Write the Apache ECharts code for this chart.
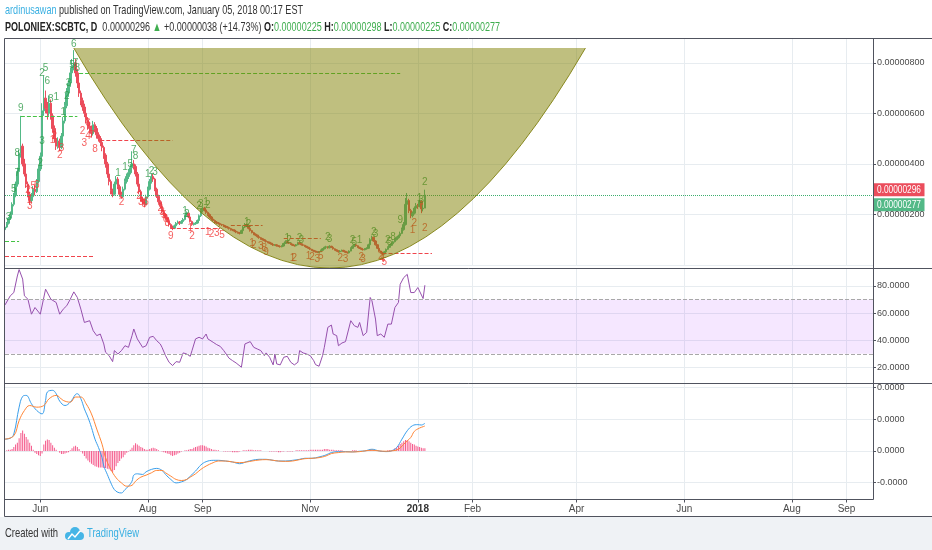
<!DOCTYPE html>
<html lang="en">
<head>
<meta charset="UTF-8">
<title>POLONIEX:SCBTC</title>
<script src="https://cdn.jsdelivr.net/npm/echarts@6/dist/echarts.min.js"></script>
<style>
  html, body { margin: 0; padding: 0; background: #ffffff; }
  #main { width: 932px; height: 550px; }
</style>
</head>
<body>
<div id="main"></div>
<script type="text/javascript">
// prices are in satoshi (1e-8 BTC), first candle = 2017-05-12
// each row: [open, close, low, high]
const ohlc = [
  [140,150,135,158],[150,165,146,170],[165,185,160,190],[185,200,178,212],[200,240,195,248],
  [240,275,232,285],[275,320,268,330],[320,370,310,385],[370,440,362,455],[440,470,425,590],
  [470,400,390,480],[400,360,350,420],[360,320,305,372],[320,280,268,330],[280,255,240,290],
  [255,270,248,285],[270,300,262,312],[300,290,275,315],[290,330,285,340],[330,380,322,392],
  [380,430,372,445],[430,610,420,640],[610,660,590,750],[660,620,600,690],[620,600,575,645],
  [600,640,590,670],[640,590,575,655],[590,540,525,600],[540,500,485,552],[500,470,455,515],
  [470,490,460,505],[490,465,450,500],[465,510,458,522],[510,570,502,585],[570,630,560,645],
  [630,680,620,700],[680,720,665,735],[720,760,705,780],[760,790,745,815],[790,800,770,850],
  [800,760,745,815],[760,720,700,775],[720,680,665,730],[680,650,632,690],[650,625,610,662],
  [625,600,585,638],[600,575,560,612],[575,550,535,585],[550,540,520,565],[540,520,505,552],
  [520,555,512,570],[555,540,525,565],[540,515,500,550],[515,500,488,525],[500,485,470,510],
  [485,465,450,495],[465,435,420,472],[435,400,385,442],[400,360,345,408],[360,330,315,368],
  [330,295,280,338],[295,280,268,302],[280,320,275,330],[320,340,312,352],[340,310,300,348],
  [310,280,270,318],[280,270,262,290],[270,300,266,310],[300,330,295,342],[330,350,322,362],
  [350,365,340,380],[365,385,358,400],[385,400,375,450],[400,390,378,415],[390,360,350,398],
  [360,320,310,368],[320,290,280,328],[290,262,250,298],[262,250,238,270],[250,240,228,258],
  [240,270,236,278],[270,300,265,310],[300,330,295,340],[330,350,322,362],[350,340,330,360],
  [340,300,292,345],[300,272,265,306],[272,250,242,278],[250,232,225,256],[232,212,205,238],
  [212,200,192,218],[200,188,180,205],[188,175,168,192],[175,160,152,180],[160,150,143,165],
  [150,145,138,156],[145,155,142,160],[155,165,150,170],[165,170,160,176],[170,165,158,174],
  [165,172,162,178],[172,180,168,186],[180,195,176,200],[195,205,190,212],[205,190,185,208],
  [190,172,168,194],[172,160,155,176],[160,163,156,168],[163,166,159,170],[166,176,163,180],
  [176,195,172,200],[195,215,190,222],[215,225,208,232],[225,218,212,230],[218,208,202,222],
  [208,200,194,212],[200,190,185,204],[190,182,176,194],[182,176,172,186],[176,170,165,180],
  [170,166,162,174],[166,164,160,170],[164,160,155,167],[160,158,154,163],[158,154,150,161],
  [154,150,146,157],[150,148,144,154],[148,144,140,151],[144,140,136,147],[140,138,134,143],
  [138,134,130,141],[134,130,126,137],[130,128,124,133],[128,125,121,131],[125,136,123,140],
  [136,150,133,156],[150,160,146,166],[160,154,150,164],[154,145,141,157],[145,136,132,148],
  [136,128,125,139],[128,122,118,131],[122,118,114,125],[118,112,108,120],[112,108,104,115],
  [108,104,100,111],[104,100,97,107],[100,96,93,103],[96,92,89,99],[92,90,86,95],
  [90,86,83,92],[86,82,79,88],[82,78,75,84],[78,80,76,83],[80,76,73,82],
  [76,74,71,78],[74,72,69,76],[72,75,70,78],[75,85,73,88],[85,92,83,96],
  [92,88,85,94],[88,86,83,90],[86,82,79,88],[82,78,75,84],[78,76,73,80],
  [76,80,74,83],[80,88,78,92],[88,84,81,90],[84,80,77,86],[80,78,75,82],
  [78,74,71,80],[74,70,67,76],[70,66,63,72],[66,62,59,68],[62,58,55,64],
  [58,55,52,60],[55,52,49,57],[52,50,47,54],[50,52,48,55],[52,58,51,61],
  [58,64,56,67],[64,70,62,73],[70,72,67,76],[72,68,65,74],[68,74,66,78],
  [74,70,67,76],[70,64,61,72],[64,60,57,66],[60,56,53,62],[56,52,49,58],
  [52,55,50,58],[55,58,53,61],[58,54,51,60],[54,50,47,56],[50,48,45,53],
  [48,55,46,58],[55,66,54,70],[66,74,64,78],[74,80,71,84],[80,76,73,82],
  [76,70,67,78],[70,66,63,72],[66,62,59,68],[62,60,57,64],[60,64,58,67],
  [64,66,61,70],[66,80,64,84],[80,100,78,106],[100,110,96,116],[110,95,92,112],
  [95,80,77,98],[80,66,63,82],[66,55,52,68],[55,48,45,57],[48,44,40,50],
  [44,52,42,55],[52,62,50,65],[62,70,60,74],[70,78,68,82],[78,84,75,88],
  [84,92,82,96],[92,100,89,105],[100,108,97,113],[108,115,104,120],[115,125,112,132],
  [125,140,122,148],[140,160,136,170],[160,240,156,265],[240,255,225,285],[255,215,205,262],
  [215,195,185,222],[195,205,188,212],[205,225,200,232],[225,235,220,245],[235,232,222,242],
  [232,252,228,258],[252,222,205,256],[222,225,212,238],[225,277,225,298]
];

// RSI(14): [day index, value]
const rsiPoints = [
  [0,66],[3,72.7],[5,75.1],[7,87.3],[8,92],[9,92],[10,85],[11,72.7],[13,70.2],[15,59.2],
  [17,64.1],[18,65.4],[20,59.2],[21,60.5],[23,77.6],[24,76.3],[26,70.2],[27,71.5],[29,67.8],[31,59.2],
  [33,62.9],[35,65.4],[37,70.2],[39,75.6],[41,71.5],[43,62.9],[45,53.1],[48,54.4],[50,47],[52,43.4],
  [54,44.6],[56,37.3],[57,31.2],[59,28.7],[61,24.3],[62,32.4],[64,29.9],[66,32.4],[68,36],[70,34.8],
  [72,43.4],[73,48.3],[75,41],[78,34.8],[80,36],[82,42.2],[84,42.9],[86,39.7],[88,37.3],[89,34.8],
  [91,28.7],[93,23.8],[95,21.4],[97,24.3],[99,23.8],[101,30.7],[103,29.9],[105,28.2],[106,32.4],[108,41],
  [110,42.2],[112,41],[114,44.6],[115,41],[118,38.5],[120,36.8],[122,35.5],[124,32.4],[127,26.8],[129,25],
  [131,23.3],[134,20.2],[136,37.3],[137,36],[139,39],[141,34.8],[143,33.6],[145,32.4],[147,28.7],[148,30.7],
  [150,27.5],[152,21.9],[153,29.9],[154,22.6],[156,21.9],[158,27.5],[160,28.2],[162,23.8],[164,21.9],[166,23.8],
  [167,32.4],[169,30.7],[171,29.9],[173,28.7],[175,25],[176,22.1],[178,20.9],[180,28.7],[181,34.8],[183,49.5],
  [185,51.2],[186,44.6],[188,43.4],[189,36],[191,38],[193,39],[196,54.4],[198,50.7],[200,49.5],[201,53.1],
  [203,43.4],[205,45.8],[207,71.5],[208,69],[210,55.6],[211,43.4],[213,44.6],[215,42.2],[217,51.9],[219,51.9],
  [221,64.1],[223,67.8],[224,81.2],[226,86.1],[228,88.5],[230,75.1],[232,75.1],[234,78.8],[235,77.6],[237,70.7],
  [238,80.5]
];

// MACD line and signal line (satoshi): [day index, value]
const macdPoints = [
  [0,18.5],[3,20],[5,26.5],[8,68.8],[10,85.7],[12,87.3],[15,74.1],[18,63.5],[21,58.2],[23,79.4],
  [24,92.6],[27,95.2],[29,89.9],[31,78.3],[34,71.4],[37,76.7],[40,88.9],[41,89.9],[43,82],[45,66.1],
  [47,52.9],[49,37],[51,18.5],[53,5.3],[55,-10.6],[56,-23.8],[58,-37],[60,-50.3],[62,-60.8],[64,-65.1],
  [66,-66.1],[68,-60.8],[70,-55.5],[72,-47.6],[73,-38.1],[75,-36],[78,-37],[80,-32.8],[83,-29.1],[86,-27.5],
  [89,-30.7],[91,-37],[94,-44.9],[97,-50.3],[100,-48.7],[103,-44.9],[105,-39.7],[108,-31.7],[111,-22.2],[114,-16.9],
  [118,-14.8],[121,-14.8],[125,-15.9],[129,-17.4],[133,-20.1],[137,-16.9],[140,-14.8],[144,-13.2],[148,-13.2],[152,-14.8],
  [155,-15.9],[159,-15.9],[163,-14.8],[167,-13.2],[170,-11.6],[174,-11.6],[178,-9.5],[182,-6.3],[185,-2.6],[189,-1.1],
  [193,-1.1],[197,-1.6],[201,-0.5],[204,0],[208,2.6],[212,0],[216,-1.1],[219,0],[222,5.3],[225,18.5],
  [228,31.7],[231,39.7],[234,41.3],[236,40.7],[238,43.4]
];
const signalPoints = [
  [0,18.5],[5,23.8],[8,47.6],[11,63.5],[14,71.4],[18,68.8],[22,71.4],[25,82],[29,87.3],[33,79.4],
  [37,76.7],[40,84.7],[43,84.7],[46,74.1],[49,58.2],[52,34.4],[55,10.6],[57,-10.6],[60,-29.1],[63,-42.3],
  [66,-50.3],[69,-55.5],[72,-54],[74,-47.6],[77,-41.2],[80,-38.1],[83,-34.4],[86,-30.7],[89,-30.7],[91,-34.4],
  [94,-39.7],[97,-44.9],[100,-46.5],[103,-44.9],[105,-41.2],[108,-36],[111,-29.1],[114,-23.8],[118,-18.5],[121,-15.9],
  [125,-15.9],[129,-17.4],[133,-18.5],[137,-17.4],[140,-15.9],[144,-14.3],[148,-13.7],[152,-14.8],[155,-15.9],[159,-16.4],
  [163,-15.9],[167,-13.7],[170,-12.2],[174,-11.6],[178,-10.6],[182,-7.9],[185,-4.2],[189,-2.6],[193,-1.6],[197,-1.6],
  [201,-1.1],[204,0],[208,1.1],[212,0],[216,-0.5],[219,0],[223,2.6],[226,10.6],[230,21.2],[232,30.7],
  [235,36],[237,38.1],[238,39.1]
];
// MACD histogram, one value per day
const histValues = [
  0,1,2,2,3,6,10,13,20,28,
  32,27,22,18,13,8,2,-3,-5,-7,
  -8,-4,10,16,18,17,13,9,5,2,
  0,-3,-5,-5,-4,-3,-2,1,4,7,
  8,6,3,-1,-4,-8,-12,-15,-18,-20,
  -22,-24,-25,-26,-26,-26,-27,-27,-28,-29,
  -31,-34,-30,-24,-19,-16,-12,-10,-6,-3,
  -1,2,5,9,12,10,8,6,5,3,
  2,2,3,4,5,4,3,1,0,-1,
  -2,-3,-4,-5,-7,-8,-7,-6,-4,-3,
  -1,0,1,1,2,3,3,5,6,7,
  8,9,9,8,7,5,4,3,2,2,
  1,1,0,0,-1,-1,-1,-1,-1,-2,
  -2,-2,-2,-1,0,1,1,1,2,2,
  2,1,1,1,1,1,0,0,0,0,
  -1,-1,-1,-1,-1,-2,-2,-1,-1,0,
  -1,-1,-1,-1,0,1,1,1,1,1,
  1,1,1,2,2,2,2,2,2,2,
  2,3,3,3,2,2,2,1,1,1,
  1,1,0,0,0,0,0,1,1,1,
  0,0,0,0,0,1,1,2,2,1,
  1,0,0,-1,-1,0,0,1,1,1,
  2,4,5,8,11,13,15,17,17,15,
  13,11,10,8,7,6,5,4,4
];

// TD sequential counts: [day index, price, text]
const tdGreen = [
  [2,190,'3'],[5,298,'5'],[7,364,'7'],[7,443,'8'],[9,621,'9'],[20,403,'2'],[21,489,'3'],[21,758,'2'],
  [23,778,'5'],[24,725,'6'],[26,654,'8'],[29,663,'1'],[33,605,'1'],[35,667,'2'],[36,720,'3'],[38,792,'5'],
  [39,874,'6'],[40,800,'7'],[41,780,'8'],[64,363,'1'],[68,388,'1'],[71,398,'5'],[73,455,'7'],[74,430,'8'],
  [81,360,'1'],[83,372,'2'],[85,368,'3'],[102,211,'1'],[103,200,'2'],[110,232,'2'],[111,240,'3'],
  [114,250,'1'],[115,236,'2'],[137,171,'1'],[138,160,'2'],[160,107,'1'],[161,98,'2'],[167,107,'2'],
  [168,98,'3'],[183,111,'2'],[184,100,'3'],[197,99,'2'],[198,90,'5'],[201,99,'1'],[209,131,'2'],
  [210,122,'3'],[217,99,'2'],[218,90,'5'],[220,110,'8'],[224,178,'9'],[235,265,'1'],[236,255,'3'],[238,328,'2']
];
const tdRed = [
  [14,258,'1'],[14,233,'3'],[13,296,'2'],[16,312,'5'],[18,316,'6'],[27,495,'1'],[28,510,'2'],[31,436,'2'],
  [32,462,'3'],[44,530,'2'],[47,510,'4'],[45,483,'3'],[49,515,'7'],[51,456,'8'],[47,560,'6'],[66,250,'2'],
  [76,272,'2'],[77,250,'3'],[79,240,'5'],[80,250,'6'],[88,225,'2'],[89,210,'3'],[90,195,'5'],[91,180,'6'],
  [92,165,'8'],[94,112,'9'],[105,146,'1'],[106,112,'2'],[115,130,'1'],[117,120,'2'],[120,125,'3'],
  [123,118,'5'],[140,85,'1'],[141,80,'2'],[145,75,'3'],[147,68,'8'],[148,52,'9'],[163,28,'1'],[164,28,'2'],
  [172,36,'1'],[174,30,'2'],[177,22,'3'],[179,36,'5'],[190,28,'2'],[193,24,'3'],[202,30,'2'],[203,24,'3'],
  [213,36,'2'],[214,24,'4'],[215,12,'5'],[231,138,'1'],[232,166,'2'],[238,146,'2']
];
// TD support / resistance lines: [from day, to day, price, kind]
const tdLines = [
  [42,224,758,'g'],[9,41,590,'g'],[54,95,494,'r'],[0,8,92,'g'],[0,50,33,'r'],
  [94,122,145,'r'],[128,146,158,'r'],[158,179,106,'r'],[214,242,46,'r']
];

// cup drawing anchors: start, control, end
const cupDays = [39, 184, 329];
const cupPrices = [858, -882, 858];

const lastPrice = 296;
const lastClose = 277;

// x axis: daily categories up to the right edge of the chart
const dates = [];
const startDay = Date.UTC(2017, 4, 12);
for (let i = 0; i < 493; i++) {
  dates.push(new Date(startDay + i * 864e5).toISOString().slice(0, 10));
}
const tickDates = ['2017-06-01','2017-08-01','2017-09-01','2017-11-01','2018-01-01',
                   '2018-02-01','2018-04-01','2018-06-01','2018-08-01','2018-09-01'];
const tickLabels = ['Jun','Aug','Sep','Nov','2018','Feb','Apr','Jun','Aug','Sep'];

const FONT = "'Liberation Sans', Arial, sans-serif";
const GREEN = '#53b987', RED = '#eb4d5c';
const gridLine = '#e7ecf0';
const frame = '#50535e';

const isTick = (i, v) => tickDates.indexOf(v) >= 0;

function xAxis(gridIndex, labels) {
  return {
    type: 'category', gridIndex: gridIndex, data: dates, boundaryGap: false,
    axisLine: { show: false, onZero: false },
    axisTick: { show: labels, interval: isTick, length: 3, lineStyle: { color: frame } },
    axisLabel: {
      show: labels, interval: isTick, color: '#4a4a4a', fontFamily: FONT, fontSize: 10, margin: 5,
      formatter: v => {
        const t = tickLabels[tickDates.indexOf(v)];
        return t === '2018' ? '{b|2018}' : t;
      },
      rich: { b: { fontWeight: 'bold', color: '#333', fontFamily: FONT, fontSize: 10 } }
    },
    splitLine: { show: true, interval: isTick, lineStyle: { color: gridLine } }
  };
}

function yAxis(gridIndex, min, max, split, fmt, step) {
  return {
    type: 'value', gridIndex: gridIndex, position: 'right', min: min, max: max, splitNumber: split,
    axisLine: { show: false },
    axisTick: { show: true, length: 3, lineStyle: { color: frame } },
    axisLabel: {
      color: '#4a4a4a', fontFamily: FONT, fontSize: 9, margin: 4,
      showMinLabel: false, showMaxLabel: false,
      formatter: v => (Math.abs(v / step - Math.round(v / step)) < 1e-6 ? fmt(v) : '')
    },
    splitLine: { lineStyle: { color: gridLine } }
  };
}

const option = {
  backgroundColor: '#ffffff',
  animation: false,
  grid: [
    { left: 5, right: 59, top: 38.5, height: 226.5 },
    { left: 5, right: 59, top: 268.5, height: 115 },
    { left: 5, right: 59, top: 383.5, height: 116 }
  ],
  xAxis: [xAxis(0, false), xAxis(1, false), xAxis(2, true)],
  yAxis: [
    yAxis(0, 0, 896, 5, v => (v / 1e8).toFixed(8), 200),
    yAxis(1, 8.2, 92.8, 5, v => v.toFixed(4), 20),
    yAxis(2, -76.4, 106, 4, v => (v / 1e8).toFixed(4), 50)
  ],
  series: [
    {
      type: 'candlestick', xAxisIndex: 0, yAxisIndex: 0, data: ohlc, barWidth: 2,
      itemStyle: { color: GREEN, color0: RED, borderColor: GREEN, borderColor0: RED, borderWidth: 1 },
      markLine: {
        silent: true, symbol: ['none', 'none'], label: { show: false },
        lineStyle: { color: '#3dae6e', type: 'dotted', width: 1 },
        data: [{ yAxis: lastClose }]
      },
      z: 2
    },
    {
      type: 'scatter', xAxisIndex: 0, yAxisIndex: 0, data: tdGreen, symbolSize: 1,
      itemStyle: { color: 'rgba(0,0,0,0)' },
      label: { show: true, position: 'inside', formatter: p => p.data[2], color: '#2e9a47', fontFamily: FONT, fontSize: 10 },
      markLine: {
        silent: true, symbol: ['none', 'none'], label: { show: false },
        data: tdLines.map(l => [
          { coord: [l[0], l[2]], lineStyle: { color: l[3] === 'g' ? '#44c244' : '#f0444c', type: 'dashed', width: 1 } },
          { coord: [l[1], l[2]] }
        ])
      },
      z: 3
    },
    {
      type: 'scatter', xAxisIndex: 0, yAxisIndex: 0, data: tdRed, symbolSize: 1,
      itemStyle: { color: 'rgba(0,0,0,0)' },
      label: { show: true, position: 'inside', formatter: p => p.data[2], color: '#f23838', fontFamily: FONT, fontSize: 10 },
      z: 3
    },
    {
      type: 'custom', xAxisIndex: 0, yAxisIndex: 0, data: [[0, 0]], clip: false, silent: true, z: 10,
      renderItem: (params, api) => {
        const a = api.coord([cupDays[0], cupPrices[0]]);
        const c = api.coord([cupDays[1], cupPrices[1]]);
        const b = api.coord([cupDays[2], cupPrices[2]]);
        const curve = 'M' + a[0] + ' ' + a[1] + ' Q' + c[0] + ' ' + c[1] + ' ' + b[0] + ' ' + b[1];
        return {
          type: 'group',
          children: [
            { type: 'path', shape: { pathData: curve + ' Z' }, style: { fill: 'rgba(128,128,0,0.5)', stroke: null } },
            { type: 'path', shape: { pathData: curve }, style: { fill: null, stroke: 'rgba(120,120,0,0.85)', lineWidth: 1 } }
          ]
        };
      }
    },
    {
      type: 'line', xAxisIndex: 1, yAxisIndex: 1, data: rsiPoints, showSymbol: false,
      lineStyle: { color: '#9650ad', width: 1 },
      markArea: { silent: true, itemStyle: { color: 'rgba(153,21,255,0.1)' }, data: [[{ yAxis: 70 }, { yAxis: 30 }]] },
      markLine: {
        silent: true, symbol: ['none', 'none'], label: { show: false },
        lineStyle: { color: '#a8a8a8', type: 'dashed', width: 1 },
        data: [{ yAxis: 70 }, { yAxis: 30 }]
      }
    },
    {
      type: 'bar', xAxisIndex: 2, yAxisIndex: 2, data: histValues, barWidth: 1,
      itemStyle: { color: '#f55a8c' }
    },
    {
      type: 'line', xAxisIndex: 2, yAxisIndex: 2, data: macdPoints, showSymbol: false, smooth: 0.4,
      lineStyle: { color: '#3a9fec', width: 1 }
    },
    {
      type: 'line', xAxisIndex: 2, yAxisIndex: 2, data: signalPoints, showSymbol: false, smooth: 0.4,
      lineStyle: { color: '#ff8636', width: 1 }
    }
  ]
};

const myChart = echarts.init(document.getElementById('main'));
myChart.setOption(option);

// text widths are squeezed to match the narrow font of the original
const measureCtx = document.createElement('canvas').getContext('2d');
function textWidth(parts) {
  let w = 0;
  parts.forEach(p => { measureCtx.font = p[1]; w += measureCtx.measureText(p[0]).width; });
  return w;
}
const F13 = '13px ' + FONT, B13 = 'bold 13px ' + FONT, F10 = '10px ' + FONT;
const line1 = [['ardinusawan', F13], [' published on TradingView.com, January 05, 2018 00:17 EST', F13]];
const line2 = [['POLONIEX:SCBTC, D', B13], ['  0.00000296 ', F13], ['\u25B2', F13], [' +0.00000038 (+14.73%) ', F13],
  ['O:', B13], ['0.00000225', F13], [' H:', B13], ['0.00000298', F13], [' L:', B13], ['0.00000225', F13],
  [' C:', B13], ['0.00000277', F13]];
const sx1 = 298 / textWidth(line1);
const sx2 = 495 / textWidth(line2);
const sxFoot = 53 / textWidth([['Created with', F13]]);
const sxTv = 52 / textWidth([['TradingView', F13]]);
const sxTag = 44 / textWidth([['0.00000296', F10]]);

// frame, header, footer and the price tags on the right axis
const y296 = myChart.convertToPixel({ yAxisIndex: 0 }, lastPrice);
const hline = (y, x1, x2) => ({ type: 'line', silent: true, z: 50, shape: { x1: x1, y1: y, x2: x2, y2: y }, style: { stroke: frame, lineWidth: 1 } });
const vline = (x, y1, y2) => ({ type: 'line', silent: true, z: 50, shape: { x1: x, y1: y1, x2: x, y2: y2 }, style: { stroke: frame, lineWidth: 1 } });
const tag = (top, text, color) => ({
  type: 'group', z: 60, children: [
    { type: 'rect', shape: { x: 873.5, y: top, width: 51, height: 13 }, style: { fill: color } },
    { type: 'text', x: 877, y: top + 7, scaleX: sxTag, style: { text: text, fill: '#fff', font: F10, verticalAlign: 'middle' } }
  ]
});

myChart.setOption({
  graphic: [
    { type: 'rect', silent: true, z: -1, shape: { x: 0, y: 517, width: 932, height: 33 }, style: { fill: '#eff2f5' } },
    hline(38.5, 4.5, 932), hline(268.5, 4.5, 932), hline(383.5, 4.5, 932),
    hline(499.5, 4.5, 873.5), hline(516.5, 4.5, 932),
    vline(4.5, 38.5, 516.5), vline(873.5, 38.5, 499.5),
    tag(y296 - 7, '0.00000296', RED),
    tag(y296 + 8, '0.00000277', GREEN),
    {
      type: 'text', x: 5, y: 10, z: 60, scaleX: sx1,
      style: {
        text: '{u|ardinusawan}{t| published on TradingView.com, January 05, 2018 00:17 EST}',
        verticalAlign: 'middle',
        rich: {
          u: { fill: '#3ab0e2', font: F13 },
          t: { fill: '#333', font: F13 }
        }
      }
    },
    {
      type: 'text', x: 5, y: 27, z: 60, scaleX: sx2,
      style: {
        text: '{k|POLONIEX:SCBTC, D}{t|  0.00000296 }{g|\u25B2}{t| +0.00000038 (+14.73%) }' +
              '{k|O:}{g|0.00000225}{k| H:}{g|0.00000298}{k| L:}{g|0.00000225}{k| C:}{g|0.00000277}',
        verticalAlign: 'middle',
        rich: {
          k: { fill: '#222', font: B13 },
          t: { fill: '#333', font: F13 },
          g: { fill: '#3fae4f', font: F13 }
        }
      }
    },
    {
      type: 'text', x: 5, y: 533, z: 60, scaleX: sxFoot,
      style: { text: 'Created with', fill: '#333', font: F13, verticalAlign: 'middle' }
    },
    // TradingView cloud logo
    { type: 'circle', z: 60, silent: true, shape: { cx: 69, cy: 536, r: 4 }, style: { fill: '#45b5e6' } },
    { type: 'circle', z: 60, silent: true, shape: { cx: 75, cy: 532, r: 5 }, style: { fill: '#45b5e6' } },
    { type: 'circle', z: 60, silent: true, shape: { cx: 80, cy: 536, r: 4 }, style: { fill: '#45b5e6' } },
    { type: 'rect', z: 60, silent: true, shape: { x: 69, y: 535, width: 11, height: 5 }, style: { fill: '#45b5e6' } },
    {
      type: 'polyline', z: 61, silent: true,
      shape: { points: [[68, 539], [72, 534], [75, 537], [80, 531]] },
      style: { fill: null, stroke: '#ffffff', lineWidth: 1.5 }
    },
    {
      type: 'text', x: 87, y: 533, z: 60, scaleX: sxTv,
      style: { text: 'TradingView', fill: '#3ab0e2', font: F13, verticalAlign: 'middle' }
    }
  ]
});
</script>
</body>
</html>
